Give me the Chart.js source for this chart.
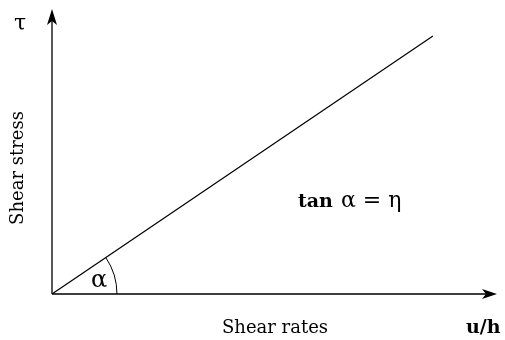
<!DOCTYPE html>
<html>
<head>
<meta charset="utf-8">
<script src="https://cdn.jsdelivr.net/npm/chart.js@4.4.0/dist/chart.umd.min.js"></script>
<style>
html,body{margin:0;padding:0;background:#fff;}
#wrap{width:505px;height:340px;}
</style>
</head>
<body>
<div id="wrap"><canvas id="c" width="505" height="340"></canvas></div>
<script>
// Data
const lineX = [0, 85.6];
const lineY = [0, 90.5];
const axisMaxX = 100;
const axisMaxY = 100;
const arcRadiusX = 14.6;          // arc radius in x-data units
const xLabel = "Shear rates";
const yLabel = "Shear stress";
const xSymbol = "u/h";
const ySymbol = "τ";
const angleLabel = "α";
const formulaBold = "tan";
const formulaRest = "α = η";

const SERIF = "'DejaVu Serif', 'Liberation Serif', serif";

const decor = {
  id: 'decor',
  afterDraw(chart) {
    const ctx = chart.ctx;
    const xs = chart.scales.x, ys = chart.scales.y;
    const ox = xs.getPixelForValue(0), oy = ys.getPixelForValue(0);
    const xEnd = xs.getPixelForValue(axisMaxX), yEnd = ys.getPixelForValue(axisMaxY);
    ctx.save();
    // axes
    ctx.strokeStyle = '#000';
    ctx.lineWidth = 1.3;
    ctx.beginPath();
    ctx.moveTo(ox, oy); ctx.lineTo(xEnd - 6, oy);
    ctx.moveTo(ox, oy); ctx.lineTo(ox, yEnd + 6);
    ctx.stroke();
    // arrowheads (stealth)
    ctx.fillStyle = '#000';
    ctx.beginPath();
    ctx.moveTo(xEnd, oy);
    ctx.lineTo(xEnd - 15, oy - 5);
    ctx.lineTo(xEnd - 11, oy);
    ctx.lineTo(xEnd - 15, oy + 5);
    ctx.closePath(); ctx.fill();
    ctx.beginPath();
    ctx.moveTo(ox, yEnd);
    ctx.lineTo(ox - 5, yEnd + 16);
    ctx.lineTo(ox, yEnd + 12);
    ctx.lineTo(ox + 5, yEnd + 16);
    ctx.closePath(); ctx.fill();
    // arc
    const px = xs.getPixelForValue(lineX[1]), py = ys.getPixelForValue(lineY[1]);
    const ang = Math.atan2(py - oy, px - ox);
    const r = xs.getPixelForValue(arcRadiusX) - ox;
    ctx.lineWidth = 1;
    ctx.beginPath();
    ctx.arc(ox, oy, r, ang, 0);
    ctx.stroke();
    // texts
    ctx.fillStyle = '#000';
    ctx.textBaseline = 'alphabetic';
    ctx.textAlign = 'center';
    ctx.font = '18px ' + SERIF;
    ctx.fillText(xLabel, ox + 223, oy + 39);
    ctx.font = '24px ' + SERIF;
    ctx.fillText(angleLabel, ox + 47, oy - 7);
    ctx.font = '22px ' + SERIF;
    ctx.fillText(ySymbol, ox - 32, oy - 264);
    ctx.font = 'bold 19px ' + SERIF;
    ctx.textAlign = 'left';
    ctx.fillText(xSymbol, ox + 414, oy + 39);
    // formula
    ctx.font = 'bold 19px ' + SERIF;
    const fx = ox + 246, fy = oy - 87;
    ctx.fillText(formulaBold, fx, fy);
    const w = ctx.measureText(formulaBold).width;
    ctx.font = '22px ' + SERIF;
    ctx.fillText(formulaRest, fx + w + 8, fy);
    // y label rotated
    ctx.save();
    ctx.translate(ox - 29, oy - 126);
    ctx.rotate(-Math.PI / 2);
    ctx.font = '18px ' + SERIF;
    ctx.textAlign = 'center';
    ctx.fillText(yLabel, 0, 0);
    ctx.restore();
    ctx.restore();
  }
};

new Chart(document.getElementById('c'), {
  type: 'scatter',
  data: {
    datasets: [{
      data: lineX.map((x, i) => ({ x: x, y: lineY[i] })),
      showLine: true,
      borderColor: '#000',
      borderWidth: 1.2,
      pointRadius: 0,
      fill: false
    }]
  },
  options: {
    responsive: false,
    animation: false,
    devicePixelRatio: 1,
    layout: { padding: { left: 52, top: 9, right: 8, bottom: 46 } },
    plugins: { legend: { display: false }, tooltip: { enabled: false } },
    scales: {
      x: { type: 'linear', min: 0, max: axisMaxX, display: false },
      y: { type: 'linear', min: 0, max: axisMaxY, display: false }
    }
  },
  plugins: [decor]
});
</script>
</body>
</html>
